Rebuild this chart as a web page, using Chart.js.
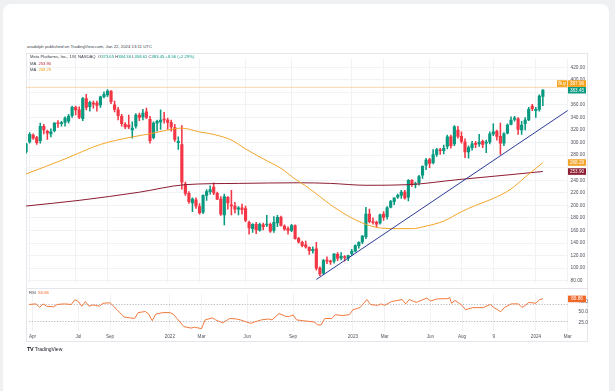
<!DOCTYPE html>
<html><head><meta charset="utf-8">
<script src="https://cdn.jsdelivr.net/npm/chart.js@4"></script>
<style>
html,body{margin:0;padding:0;background:#eef0f2;width:615px;height:391px;overflow:hidden;font-family:"Liberation Sans",Arial,sans-serif;}
#card{position:absolute;left:3px;top:4px;width:606px;height:420px;background:#fff;border-radius:8px;}
#frame{position:absolute;left:26px;top:53px;width:562px;height:289px;border:1px solid #e4e6eb;box-sizing:border-box;}
#sep{position:absolute;left:26px;top:287.5px;width:562px;height:1px;background:#e4e6eb;}
.t{position:absolute;white-space:nowrap;line-height:1;color:#3a3d46;}
canvas{position:absolute;}
</style></head>
<body>
<div id="card"></div>
<div id="frame"></div>
<div id="sep"></div>
<canvas id="c1" width="562" height="235" style="left:26px;top:53px;width:562px;height:235px"></canvas>
<canvas id="c2" width="562" height="54" style="left:26px;top:288px;width:562px;height:54px"></canvas>
<div class="t" style="left:27px;top:45px;font-size:4.3px;">arudolph published on TradingView.com, Jan 22, 2024 13:11 UTC</div>
<div class="t" style="left:30px;top:55px;font-size:4.2px;">Meta Platforms, Inc., 1W, NASDAQ &nbsp;O<span style="color:#089981">373.65</span> H<span style="color:#089981">384.36</span> L<span style="color:#089981">358.61</span> C<span style="color:#089981">383.45</span> <span style="color:#089981">+8.56 (+2.29%)</span></div>
<div class="t" style="left:30px;top:61.8px;font-size:4.2px;">MA &nbsp;<span style="color:#b3263a">253.90</span></div>
<div class="t" style="left:30px;top:68.2px;font-size:4.2px;">MA &nbsp;<span style="color:#f0a020">268.29</span></div>
<div class="t" style="left:29px;top:291.2px;font-size:4.2px;">RSI &nbsp;<span style="color:#f0692a">80.86</span></div>
<div class="t" style="left:27px;top:346.5px;font-size:5px;color:#131722;"><b style="font-size:5.5px;letter-spacing:-0.3px">TV</b> TradingView</div>
<script>
// ---------- data ----------
const opens  = [285,301,312,308,303,326,318,314,319,331,330,332,334,343,356,352,338,370,357,363,363,360,373,376,382,360,352,342,329,328,320,326,344,341,349,337,308,331,333,337,
 336,332,324,300,297,234,219,204,209,198,189,216,222,229,219,210,185,213,201,199,194,196,195,173,163,170,160,169,169,170,160,172,181,167,163,160,168,147,141,137,133,128,131,100,92,113,111,111,122,116,118,116,
 123,127,136,142,150,186,174,173,172,186,182,197,206,213,216,221,213,240,233,236,248,264,273,268,281,288,287,294,309,298,320,310,301,285,292,299,298,302,299,301,314,318,310,299,315,329,337,338,320,330,336,358,
 351,353,373.65];
const highs  = [299,316,314,310,331,329,320,322,332,335,334,341,345,358,358,357,372,377,366,366,366,374,381,384.3,383,366,356,345,332,344,333,346,347,353,355,342,333,336,352,348,
 339,336,329,309,327,237,222,212,212,203,217,225,231,236,221,214,218,214,224,205,198,202,199,175,171,173,172,172,184,172,182,184,183,169,166,170,169,149,143,143,134,134,141,102,114,118,113,123,125,125,120,121,
 130,137,142,152,197,194,180,175,186,190,198,208,212,218,224,224,241,241,237,248,263,275,275,289,291,291,296,312,312,327,326,317,306,295,302,302,313,304,304,317,330,320,331,316,330,341,342,340,334,340,356,361,
 356,376,384.36];
const lows   = [283,299,305,297,299,314,305,309,317,324,326,326,331,340,344,338,335,352,350,355,350,356,371,373,362,349,336,326,322,322,307,323,335,336,338,299,306,318,321,331,
 321,318,302,289,226,216,203,190,195,186,187,208,218,217,209,184,169,194,185,188,185,186,174,154,157,155,159,161,166,157,157,166,167,160,154,158,146,140,134,132,122,124,97,88,90,107,106,108,112,113,111,112,
 120,126,132,139,147,172,170,166,170,176,178,196,201,211,211,210,207,230,228,232,243,257,260,266,278,281,282,290,291,295,307,299,276,275,288,292,294,292,284,298,311,304,281,295,314,328,334,313,313,320,335,351,
 340,350,358.61];
const closes = [298,313,307,300,326,320,315,317,331,330,332,339,342,356,352,340,370,356,364,361,359,373,377,382,365,353,343,330,325,325,323,344,340,347,340,303,331,334,336,336,
 332,325,305,302,237,219,206,210,199,188,216,222,225,220,210,186,214,204,199,194,196,193,176,164,170,161,170,166,169,159,173,181,168,162,160,168,147,142,136,134,128,130,100,91,112,111,110,123,116,119,117,120,
 127,136,141,151,186,174,173,170,185,181,196,206,212,216,221,212,240,233,234,246,262,272,267,281,289,287,291,309,295,325,310,302,285,292,298,297,301,297,301,314,317,310,299,314,328,336,339,321,328,336,353,354,
 353,374,383.45];

const ma50Idx  = [0,11,21,30,35,40,44,49,53,58,62,67,72,76,79,83,86,91,95,100,105,109,113,118,123,127,132,137,141,146];
const ma50Val  = [250,274,297,309,314,320,323,317,313,304,290,274,259,242,231,214,201,183,172,164,163,163,167,175,190,200,211,226,245,268];
const ma200Idx = [0,15,32,45,60,77,86,96,108,122,137,146];
const ma200Val = [199,208,221,233,235,236,235,232,233,241,249,254];
const trendIdx = [82,153];
const trendVal = [82,351];
const rsiIdx = [0,2,3,4,5,7,8,10,12,13,14,15,16,17,18,19,20,21,23,25,27,30,31,33,34,35,36,38,40,41,42,44,46,47,49,50,52,53,55,57,59,60,63,64,66,68,69,71,73,74,75,76,
 78,81,82,83,84,86,87,89,91,92,94,96,97,99,100,101,103,106,107,108,110,113,114,116,119,119.5,120,121,123,124,126,129,131,132,134,135,137,139,140,141,142,144,145,146];
const rsiVal = [67.9,69.3,61,69.3,63.8,62.5,67.9,69.3,67.9,78.9,74.8,63.8,74.8,63.8,66.6,65.8,63.8,70.7,72,55.6,38.7,35.2,48.9,51.5,45.4,29.9,45.4,48.9,48.9,45.4,35.2,16.2,12.8,14.8,11.5,31.9,36.6,31.9,25,35.2,34,31.9,23.8,27,31.9,34,31.9,46.8,40,40,43.4,31.9,
 29.9,27,20.3,20.3,35.2,35.2,44.1,42.1,44.1,55.6,60.5,79.5,67.9,65.8,69.3,65.8,74.8,79.5,69.3,79.5,72.7,82.9,76,80.9,81.5,84.2,70.7,77.4,65.8,55.6,60.5,60.5,67.9,61.1,50.9,60.5,69.3,69.3,61.1,65.8,72.7,70.7,79.5,80.86];
const rsiLevels = [70,30];
const priceTicks = [80,100,120,140,160,180,200,220,240,260,280,300,320,340,360,380,400,420];
const rsiTicks = [25,50,75];
const timeIdx    = [1,14,23,40,49,62,75,92,101,114,123,132,144,153];
const timeLabels = ['Apr','Jul','Sep','2022','Mar','Jun','Sep','2023','Mar','Jun','Aug','9','2024','Mar'];
const buyLevel = 387.96;
const maLast = {ma200:253.90, ma50:268.29};
const rsiLast = 80.86;

// ---------- style ----------
const GREEN='#089981', RED='#f23645', MA50C='#f2a52b', MA200C='#8c1d32', BLUE='#2d3a96', RSIC='#f27a3e', ORANGE='#f7a21b';
const XMIN=-0.03, XMAX=153.1;
const FONT="'Liberation Sans', Arial, sans-serif";
const up = i => closes[i] >= opens[i];
const idx = closes.map((_,i)=>i);

const tagPlugin = {
  id:'tags',
  afterDraw(chart){
    const {ctx, chartArea:ca, scales:{y}} = chart;
    const h=6.6;
    const tags=[
      {v:closes[closes.length-1], bg:GREEN},
      {v:buyLevel, bg:ORANGE, pre:'Buy'},
      {v:maLast.ma50, bg:MA50C},
      {v:maLast.ma200, bg:MA200C}
    ];
    tags.forEach(t=>t.y=y.getPixelForValue(t.v));
    tags.sort((a,b)=>b.y-a.y);
    for(let i=1;i<tags.length;i++){ if(tags[i].y>tags[i-1].y-h) tags[i].y=tags[i-1].y-h; }
    ctx.save();
    ctx.font='4.6px '+FONT; ctx.textAlign='center'; ctx.textBaseline='middle';
    tags.forEach(t=>{
      ctx.fillStyle=t.bg; ctx.fillRect(ca.right, t.y-h/2, 18, h);
      ctx.fillStyle='#fff'; ctx.fillText(t.v.toFixed(2), ca.right+9, t.y+0.3);
      if(t.pre){ ctx.fillStyle=t.bg; ctx.fillRect(ca.right-11, t.y-h/2, 10.3, h);
        ctx.fillStyle='#fff'; ctx.fillText(t.pre, ca.right-5.8, t.y+0.3); }
    });
    ctx.restore();
  }
};

new Chart(document.getElementById('c1'), {
  type:'bar',
  data:{datasets:[
    {type:'line', data:[{x:XMIN,y:buyLevel},{x:XMAX,y:buyLevel}], borderColor:'#f8cf9c', borderWidth:0.8, pointRadius:0, order:20},
    {type:'bar', data:idx.map(i=>({x:i,y:[lows[i],highs[i]]})), backgroundColor:c=>up(c.dataIndex)?GREEN:RED, barThickness:0.9, grouped:false, order:12},
    {type:'bar', data:idx.map(i=>({x:i,y:[Math.min(opens[i],closes[i]),Math.max(opens[i],closes[i])]})), backgroundColor:c=>up(c.dataIndex)?GREEN:RED, barThickness:2.5, minBarLength:0.8, grouped:false, order:11},
    {type:'line', data:ma200Idx.map((x,i)=>({x,y:ma200Val[i]})), borderColor:MA200C, borderWidth:1, pointRadius:0, cubicInterpolationMode:'monotone', order:5},
    {type:'line', data:ma50Idx.map((x,i)=>({x,y:ma50Val[i]})), borderColor:MA50C, borderWidth:1, pointRadius:0, cubicInterpolationMode:'monotone', order:4},
    {type:'line', data:trendIdx.map((x,i)=>({x,y:trendVal[i]})), borderColor:BLUE, borderWidth:1, pointRadius:0, order:1}
  ]},
  options:{
    responsive:false, animation:false, events:[],
    layout:{padding:0, autoPadding:false},
    plugins:{legend:{display:false}, tooltip:{enabled:false}},
    scales:{
      x:{type:'linear', min:XMIN, max:XMAX, offset:false,
         grid:{color:'#f1f2f5', drawTicks:false, offset:false}, border:{display:false}, ticks:{display:false},
         afterBuildTicks:s=>{s.ticks=timeIdx.map(v=>({value:v}));}, afterFit:s=>{s.height=0;}},
      y:{type:'linear', position:'right', min:77, max:434.1,
         grid:{color:'#f1f2f5', drawTicks:false}, border:{display:false},
         ticks:{font:{size:4.8,family:FONT}, color:'#50535e', padding:2.5,
           callback:v=>([closes[closes.length-1],buyLevel,maLast.ma50,maLast.ma200].some(t=>Math.abs(t-v)<10)?'':Number(v).toFixed(2))},
         afterBuildTicks:s=>{s.ticks=priceTicks.map(v=>({value:v}));}, afterFit:s=>{s.width=20;}}
    }
  },
  plugins:[tagPlugin]
});

const rsiPlugin = {
  id:'rsiextra',
  beforeDatasetsDraw(chart){
    const {ctx, chartArea:ca, scales:{y}} = chart;
    ctx.save(); ctx.strokeStyle='#a4a7b0'; ctx.lineWidth=0.8; ctx.setLineDash([1.2,1.6]);
    rsiLevels.forEach(l=>{const py=Math.round(y.getPixelForValue(l))+0.5; ctx.beginPath(); ctx.moveTo(ca.left,py); ctx.lineTo(ca.right,py); ctx.stroke();});
    ctx.restore();
  },
  afterDraw(chart){
    const {ctx, chartArea:ca, scales:{y}} = chart;
    const py=y.getPixelForValue(rsiLast), h=6.6;
    ctx.save(); ctx.fillStyle='#f0692a'; ctx.fillRect(ca.right, py-h/2, 18, h);
    ctx.fillStyle='#fff'; ctx.font='4.6px '+FONT; ctx.textAlign='center'; ctx.textBaseline='middle';
    ctx.fillText(rsiLast.toFixed(2), ca.right+9, py+0.3); ctx.restore();
  }
};

new Chart(document.getElementById('c2'), {
  type:'line',
  data:{datasets:[
    {data:rsiIdx.map((x,i)=>({x,y:rsiVal[i]})), borderColor:RSIC, borderWidth:1, pointRadius:0, tension:0}
  ]},
  options:{
    responsive:false, animation:false, events:[],
    layout:{padding:0, autoPadding:false},
    plugins:{legend:{display:false}, tooltip:{enabled:false}},
    scales:{
      x:{type:'linear', min:XMIN, max:XMAX, offset:false,
         grid:{color:'#f1f2f5', drawTicks:false}, border:{display:false},
         ticks:{font:{size:4.6,family:FONT}, color:'#50535e', padding:3, maxRotation:0, autoSkip:false,
           callback:(v)=>{const k=timeIdx.indexOf(v); return k>=0?timeLabels[k]:'';}},
         afterBuildTicks:s=>{s.ticks=timeIdx.map(v=>({value:v}));}, afterFit:s=>{s.height=11;}},
      y:{type:'linear', position:'right', min:6, max:93.8,
         grid:{display:false}, border:{display:false},
         ticks:{font:{size:4.8,family:FONT}, color:'#50535e', padding:2.5, callback:v=>Number(v).toFixed(2)},
         afterBuildTicks:s=>{s.ticks=rsiTicks.map(v=>({value:v}));}, afterFit:s=>{s.width=20;}}
    }
  },
  plugins:[rsiPlugin]
});
</script>
</body></html>
